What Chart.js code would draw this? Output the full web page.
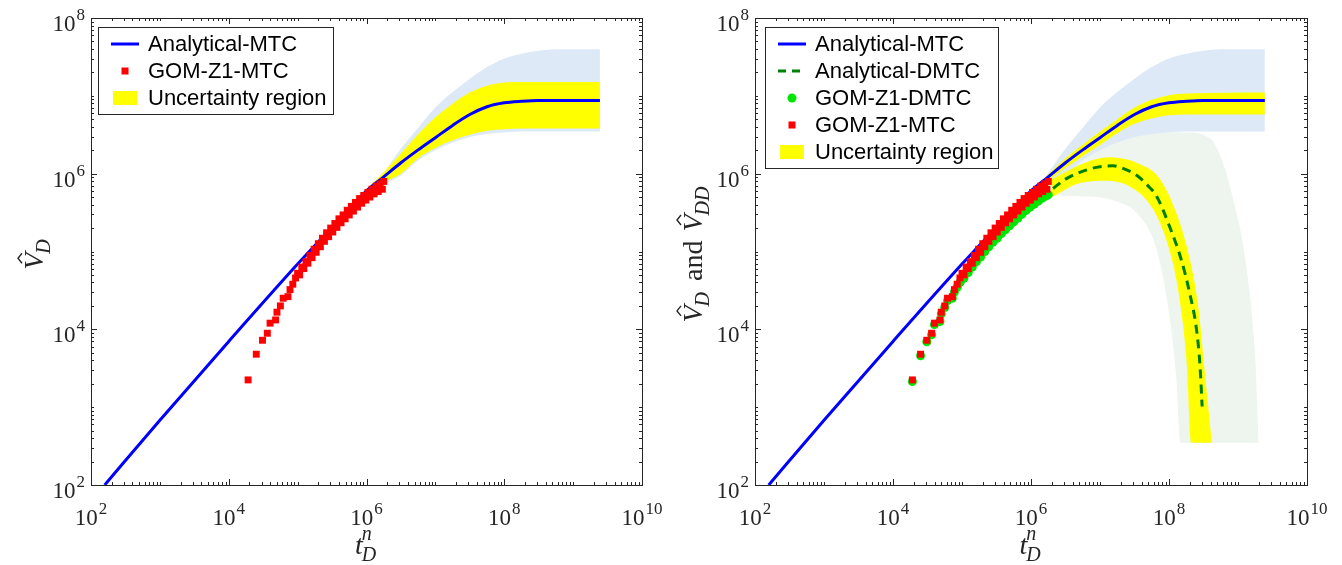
<!DOCTYPE html>
<html>
<head>
<meta charset="utf-8">
<script src="https://cdn.jsdelivr.net/npm/chart.js@4.4.1/dist/chart.umd.min.js"></script>
<style>
html, body { margin: 0; padding: 0; background: #fff; }
#wrap { position: relative; width: 1342px; height: 565px; }
canvas { position: absolute; top: 0; }
</style>
</head>
<body>
<div id="wrap">
  <canvas id="leftChart" width="671" height="565" style="left:0"></canvas>
  <canvas id="rightChart" width="671" height="565" style="left:671px"></canvas>
</div>
<script>
// tick label exponents (10^n)
const xTickExp = [2, 4, 6, 8, 10];
const yTickExp = [2, 4, 6, 8];

// Analytical-MTC curve
const mtcT = [158, 1e3, 1e4, 1e5, 3.16e5, 1e6, 1.78e6, 3.16e6, 5.62e6, 1e7, 1.78e7, 3.16e7, 5.62e7, 1e8, 1.78e8, 3.16e8, 2.45e9];
const mtcV = [100, 680, 7000, 6.9e4, 2.05e5, 6.0e5, 9.1e5, 1.38e6, 2.02e6, 2.9e6, 4.17e6, 5.75e6, 7.24e6, 8.13e6, 8.51e6, 8.71e6, 8.71e6];

// Analytical-DMTC curve
const dmtcT = [2.09e6, 3.16e6, 6.46e6, 1e7, 1.55e7, 2.24e7, 3.39e7, 5.01e7, 6.61e7, 1.02e8, 1.51e8, 2.0e8, 2.51e8, 2.82e8, 3.02e8];
const dmtcV = [6.46e5, 8.51e5, 1.12e6, 1.23e6, 1.26e6, 1.15e6, 9.55e5, 6.92e5, 5.13e5, 2.09e5, 7.76e4, 2.88e4, 9.77e3, 3.31e3, 1.02e3];

// field data GOM-Z1 (same times for both series)
const fieldT = [1.91e4, 2.51e4, 3.09e4, 3.63e4, 3.98e4, 4.79e4, 5.01e4, 5.62e4, 6.17e4, 7.24e4, 7.76e4,
  8.51e4, 9.33e4, 1.0e5, 1.07e5, 1.15e5, 1.23e5, 1.32e5, 1.41e5, 1.51e5, 1.62e5, 1.74e5, 1.86e5, 2.0e5,
  2.14e5, 2.29e5, 2.45e5, 2.63e5, 2.82e5, 3.02e5, 3.24e5, 3.47e5, 3.72e5, 3.98e5, 4.27e5, 4.57e5, 4.90e5,
  5.25e5, 5.62e5, 6.03e5, 6.46e5, 6.92e5, 7.41e5, 7.94e5, 8.51e5, 9.12e5, 9.77e5, 1.05e6, 1.12e6, 1.20e6,
  1.29e6, 1.38e6, 1.48e6, 1.58e6, 1.70e6, 1.78e6];
const gomMtcV = [2240, 4790, 7240, 8910, 1.20e4, 1.32e4, 1.66e4, 2.0e4, 2.51e4, 2.63e4, 3.24e4,
  3.80e4, 4.57e4, 5.25e4, 5.01e4, 6.31e4, 6.03e4, 7.41e4, 7.08e4, 8.91e4, 8.32e4, 1.07e5, 9.77e4, 1.26e5,
  1.15e5, 1.48e5, 1.35e5, 1.74e5, 1.55e5, 2.0e5, 1.78e5, 2.29e5, 2.04e5, 2.63e5, 2.34e5, 2.95e5, 2.63e5,
  3.39e5, 2.95e5, 3.80e5, 3.31e5, 4.27e5, 3.72e5, 4.79e5, 4.17e5, 5.25e5, 4.57e5, 5.75e5, 5.01e5, 6.31e5,
  5.50e5, 6.92e5, 5.89e5, 7.41e5, 6.31e5, 7.94e5];
const gomDmtcV = [2140, 4570, 6920, 8510, 1.15e4, 1.26e4, 1.58e4, 1.91e4, 2.34e4, 2.51e4, 3.02e4,
  3.47e4, 3.98e4, 4.37e4, 4.57e4, 5.25e4, 5.37e4, 6.17e4, 6.31e4, 7.24e4, 7.41e4, 8.51e4, 8.51e4, 1.0e5,
  1.0e5, 1.15e5, 1.15e5, 1.32e5, 1.32e5, 1.48e5, 1.48e5, 1.66e5, 1.70e5, 1.86e5, 1.91e5, 2.09e5, 2.14e5,
  2.34e5, 2.40e5, 2.63e5, 2.69e5, 2.95e5, 3.02e5, 3.31e5, 3.39e5, 3.63e5, 3.72e5, 3.98e5, 4.07e5, 4.37e5,
  4.47e5, 4.79e5, 4.90e5, 5.13e5, 5.25e5, 5.37e5];

// MTC realisations envelope (light blue)
const mtcCloudT = [1.55e6, 3.16e6, 5.62e6, 1e7, 1.78e7, 3.16e7, 5.62e7, 1e8, 1.78e8, 3.16e8, 5.62e8, 2.45e9];
const mtcCloudHi = [8.5e5, 2.1e6, 3.9e6, 7.1e6, 1.12e7, 1.66e7, 2.34e7, 3.02e7, 3.47e7, 3.8e7, 3.98e7, 3.98e7];
const mtcCloudLo = [6.9e5, 9.5e5, 1.48e6, 2.0e6, 2.51e6, 2.95e6, 3.24e6, 3.39e6, 3.47e6, 3.47e6, 3.47e6, 3.47e6];

// MTC uncertainty region, left panel
const bandLeftT = [2.0e5, 6.31e5, 1.58e6, 3.16e6, 5.62e6, 1e7, 1.78e7, 3.16e7, 5.62e7, 1e8, 1.78e8, 2.45e9];
const bandLeftHi = [1.4e5, 4.3e5, 9.4e5, 1.82e6, 3.2e6, 5.3e6, 7.94e6, 1.1e7, 1.35e7, 1.48e7, 1.51e7, 1.51e7];
const bandLeftLo = [1.2e5, 3.6e5, 7.3e5, 1.0e6, 1.58e6, 2.14e6, 2.69e6, 3.16e6, 3.55e6, 3.72e6, 3.8e6, 3.8e6];

// MTC uncertainty region, right panel
const bandRightT = [1.58e6, 3.16e6, 5.62e6, 1e7, 1.78e7, 3.16e7, 5.62e7, 1e8, 1.78e8, 2.45e9];
const bandRightHi = [8.9e5, 1.58e6, 2.36e6, 3.47e6, 5.01e6, 7.08e6, 8.91e6, 1.02e7, 1.07e7, 1.1e7];
const bandRightLo = [7.6e5, 1.18e6, 1.68e6, 2.34e6, 3.31e6, 4.37e6, 5.13e6, 5.62e6, 5.75e6, 5.75e6];

// DMTC uncertainty region (yellow), outer and inner edges
const dBandOuterT = [2.0e6, 6.46e6, 1.41e7, 3.8e7, 7.41e7, 1.32e8, 2.0e8, 2.69e8, 3.24e8, 4.17e8];
const dBandOuterV = [8.5e5, 1.41e6, 1.62e6, 1.32e6, 8.5e5, 2.88e5, 7.94e4, 1.78e4, 3.31e3, 350];
const dBandInnerT = [2.0e6, 5.13e6, 1.26e7, 3.02e7, 5.62e7, 8.91e7, 1.26e8, 1.55e8, 1.82e8, 2.09e8, 4.17e8];
const dBandInnerV = [5.0e5, 7.6e5, 8.1e5, 6.46e5, 3.72e5, 1.51e5, 4.68e4, 1.41e4, 3.31e3, 350, 350];

// DMTC realisations envelope (pale green)
const dCloudHiT = [1.91e6, 5.62e6, 1.78e7, 5.62e7, 1.78e8, 3.98e8, 6.03e8, 8.91e8, 1.23e9, 1.78e9, 2.0e9];
const dCloudHiV = [7.08e5, 1.58e6, 2.63e6, 3.31e6, 3.39e6, 2.82e6, 1.38e6, 3.98e5, 9.77e4, 4.07e3, 350];
const dCloudLoT = [1.91e6, 5.13e6, 1.55e7, 3.8e7, 6.61e7, 1.02e8, 1.29e8, 1.45e8, 2.0e9];
const dCloudLoV = [5.25e5, 5.13e5, 4.57e5, 2.82e5, 1.05e5, 1.45e4, 2.04e3, 350, 350];

const BLUE = '#0000ff', RED = '#ff0000', LIME = '#00e600', DKGREEN = '#008000';
const YELLOW = '#ffff00', CLOUD_BLUE = '#dde9f7', CLOUD_GREEN = '#eef4ee';
const AXIS = '#262626';

const pts = (xs, ys) => xs.map((x, i) => ({ x: x, y: ys[i] }));

function lineDs(xs, ys, color, width, dash) {
  return { data: pts(xs, ys), showLine: true, borderColor: color, borderWidth: width,
    borderDash: dash || [], pointRadius: 0, fill: false, cubicInterpolationMode: 'monotone' };
}
function markerDs(xs, ys, style, radius, color) {
  return { data: pts(xs, ys), showLine: false, pointStyle: style, pointRadius: radius,
    backgroundColor: color, borderColor: color, borderWidth: 0 };
}
function bandDs(xHi, hi, xLo, lo, color) {
  return [
    { data: pts(xHi, hi), showLine: true, borderWidth: 0, borderColor: 'transparent', pointRadius: 0,
      fill: '+1', backgroundColor: color, cubicInterpolationMode: 'monotone' },
    { data: pts(xLo, lo), showLine: true, borderWidth: 0, borderColor: 'transparent', pointRadius: 0,
      fill: false, cubicInterpolationMode: 'monotone' }
  ];
}

function drawPow(ctx, exp, x, y, align) {
  ctx.font = '23px "Liberation Serif"';
  const w1 = ctx.measureText('10').width;
  ctx.font = '17px "Liberation Serif"';
  const w2 = ctx.measureText(String(exp)).width;
  const total = w1 + w2 + 1;
  const x0 = align === 'center' ? x - total / 2 : x - total;
  ctx.textAlign = 'left';
  ctx.textBaseline = 'alphabetic';
  ctx.font = '23px "Liberation Serif"';
  ctx.fillText('10', x0, y);
  ctx.font = '17px "Liberation Serif"';
  ctx.fillText(String(exp), x0 + w1 + 1, y - 11);
}

// draws a list of math pieces centred on (0,0) of the current transform
function drawMath(ctx, pieces) {
  const big = 'italic 28px "Liberation Serif"', small = 'italic 20px "Liberation Serif"',
    roman = '28px "Liberation Serif"';
  const widths = pieces.map(p => {
    if (p.text) { ctx.font = roman; return ctx.measureText(p.text).width + 2 * (p.pad || 0); }
    ctx.font = big; let w = ctx.measureText(p.base).width;
    ctx.font = small;
    const ws = p.sub ? ctx.measureText(p.sub).width : 0;
    const wp = p.sup ? ctx.measureText(p.sup).width : 0;
    return w + Math.max(ws, wp) + 1;
  });
  let x = -widths.reduce((a, b) => a + b, 0) / 2;
  ctx.textAlign = 'left';
  ctx.textBaseline = 'alphabetic';
  pieces.forEach((p, i) => {
    if (p.text) { ctx.font = roman; ctx.fillText(p.text, x + (p.pad || 0), 9); x += widths[i]; return; }
    ctx.font = big;
    const wb = ctx.measureText(p.base).width;
    ctx.fillText(p.base, x, 9);
    if (p.hat) {
      const cx = x + wb / 2 + 3;
      ctx.beginPath();
      ctx.lineWidth = 1.4;
      ctx.strokeStyle = AXIS;
      ctx.moveTo(cx - 5, -12); ctx.lineTo(cx, -16); ctx.lineTo(cx + 5, -12);
      ctx.stroke();
    }
    ctx.font = small;
    if (p.sub) ctx.fillText(p.sub, x + wb - 1, 16);
    if (p.sup) ctx.fillText(p.sup, x + wb - 1, -5);
    x += widths[i];
  });
}

function framePlugin(cfg) {
  return {
    id: 'frame',
    afterDraw(chart) {
      const ctx = chart.ctx;
      const { left, right, top, bottom } = chart.chartArea;
      const xs = chart.scales.x, ys = chart.scales.y;
      ctx.save();
      ctx.strokeStyle = AXIS;
      ctx.fillStyle = AXIS;
      ctx.lineWidth = 1;
      // minor + major ticks, inward on all four sides
      ctx.beginPath();
      for (let n = 2; n < 10; n++) {
        for (let k = 1; k <= 9; k++) {
          const len = (k === 1 && n % 2 === 0) ? 6 : 3;
          const px = Math.round(xs.getPixelForValue(k * Math.pow(10, n))) + 0.5;
          ctx.moveTo(px, bottom); ctx.lineTo(px, bottom - len);
          ctx.moveTo(px, top); ctx.lineTo(px, top + len);
        }
      }
      for (let n = 2; n < 8; n++) {
        for (let k = 1; k <= 9; k++) {
          const len = (k === 1 && n % 2 === 0) ? 6 : 3;
          const py = Math.round(ys.getPixelForValue(k * Math.pow(10, n))) + 0.5;
          ctx.moveTo(left, py); ctx.lineTo(left + len, py);
          ctx.moveTo(right, py); ctx.lineTo(right - len, py);
        }
      }
      ctx.stroke();
      ctx.strokeRect(Math.round(left) + 0.5, Math.round(top) + 0.5, Math.round(right - left), Math.round(bottom - top));
      // tick labels
      xTickExp.forEach(e => drawPow(ctx, e, xs.getPixelForValue(Math.pow(10, e)), bottom + 40, 'center'));
      yTickExp.forEach(e => drawPow(ctx, e, left - 6, ys.getPixelForValue(Math.pow(10, e)) + 13, 'right'));
      // axis labels
      ctx.save();
      ctx.translate((left + right) / 2, bottom + 60);
      drawMath(ctx, [{ base: 't', sub: 'D', sup: 'n' }]);
      ctx.restore();
      ctx.save();
      ctx.translate(cfg.yLabelX, (top + bottom) / 2 + 2);
      ctx.rotate(-Math.PI / 2);
      drawMath(ctx, cfg.yLabel);
      ctx.restore();
      // legend
      const bx = left + cfg.legendDx, by = top + 9;
      const bw = cfg.legendW, bh = 16 + 27 * (cfg.legend.length - 1) + 17;
      ctx.fillStyle = '#fff';
      ctx.fillRect(bx, by, bw, bh);
      ctx.strokeStyle = AXIS;
      ctx.lineWidth = 1;
      ctx.strokeRect(Math.round(bx) + 0.5, Math.round(by) + 0.5, bw, bh);
      cfg.legend.forEach((item, i) => {
        const ry = by + 17 + 27 * i;
        const sx = bx + 27;
        ctx.save();
        if (item.kind === 'line' || item.kind === 'dash') {
          ctx.strokeStyle = item.color;
          ctx.lineWidth = 3;
          ctx.setLineDash(item.kind === 'dash' ? [8, 6] : []);
          ctx.beginPath(); ctx.moveTo(sx - 14, ry); ctx.lineTo(sx + 14, ry); ctx.stroke();
        } else if (item.kind === 'square') {
          ctx.fillStyle = item.color; ctx.fillRect(sx - 3.5, ry - 3.5, 7, 7);
        } else if (item.kind === 'circle') {
          ctx.fillStyle = item.color; ctx.beginPath(); ctx.arc(sx, ry, 4.5, 0, Math.PI * 2); ctx.fill();
        } else {
          ctx.fillStyle = item.color; ctx.fillRect(sx - 12, ry - 7, 24, 14);
        }
        ctx.restore();
        ctx.fillStyle = '#000';
        ctx.font = '22px "Liberation Sans"';
        ctx.textAlign = 'left';
        ctx.textBaseline = 'middle';
        ctx.fillText(item.label, bx + 50, ry + 1);
      });
      ctx.restore();
    }
  };
}

function makePanel(id, datasets, padding, cfg) {
  return new Chart(document.getElementById(id), {
    type: 'line',
    data: { datasets: datasets },
    options: {
      responsive: false,
      animation: false,
      events: [],
      devicePixelRatio: 1,
      layout: { padding: padding },
      plugins: { legend: { display: false }, tooltip: { enabled: false } },
      scales: {
        x: { type: 'logarithmic', min: 1e2, max: 1e10, display: false },
        y: { type: 'logarithmic', min: 1e2, max: 1e8, display: false }
      }
    },
    plugins: [framePlugin(cfg)]
  });
}

// datasets listed top layer first
const leftSets = [
  markerDs(fieldT, gomMtcV, 'rect', 4.9, RED),
  lineDs(mtcT, mtcV, BLUE, 3),
  ...bandDs(bandLeftT, bandLeftHi, bandLeftT, bandLeftLo, YELLOW),
  ...bandDs(mtcCloudT, mtcCloudHi, mtcCloudT, mtcCloudLo, CLOUD_BLUE)
];
makePanel('leftChart', leftSets, { left: 91, top: 18, right: 29, bottom: 80 }, {
  yLabelX: 34,
  yLabel: [{ base: 'V', sub: 'D', hat: true }],
  legendDx: 7, legendW: 235,
  legend: [
    { kind: 'line', color: BLUE, label: 'Analytical-MTC' },
    { kind: 'square', color: RED, label: 'GOM-Z1-MTC' },
    { kind: 'patch', color: YELLOW, label: 'Uncertainty region' }
  ]
});

const rightSets = [
  markerDs(fieldT, gomMtcV, 'rect', 4.9, RED),
  markerDs(fieldT, gomDmtcV, 'circle', 4.5, LIME),
  lineDs(dmtcT, dmtcV, DKGREEN, 3, [9, 6]),
  lineDs(mtcT, mtcV, BLUE, 3),
  ...bandDs(dBandOuterT, dBandOuterV, dBandInnerT, dBandInnerV, YELLOW),
  ...bandDs(bandRightT, bandRightHi, bandRightT, bandRightLo, YELLOW),
  ...bandDs(mtcCloudT, mtcCloudHi, mtcCloudT, mtcCloudLo, CLOUD_BLUE),
  ...bandDs(dCloudHiT, dCloudHiV, dCloudLoT, dCloudLoV, CLOUD_GREEN)
];
makePanel('rightChart', rightSets, { left: 84, top: 18, right: 35, bottom: 80 }, {
  yLabelX: 22,
  yLabel: [{ base: 'V', sub: 'D', hat: true }, { text: 'and', pad: 9 }, { base: 'V', sub: 'DD', hat: true }],
  legendDx: 10, legendW: 233,
  legend: [
    { kind: 'line', color: BLUE, label: 'Analytical-MTC' },
    { kind: 'dash', color: DKGREEN, label: 'Analytical-DMTC' },
    { kind: 'circle', color: LIME, label: 'GOM-Z1-DMTC' },
    { kind: 'square', color: RED, label: 'GOM-Z1-MTC' },
    { kind: 'patch', color: YELLOW, label: 'Uncertainty region' }
  ]
});
</script>
</body>
</html>
